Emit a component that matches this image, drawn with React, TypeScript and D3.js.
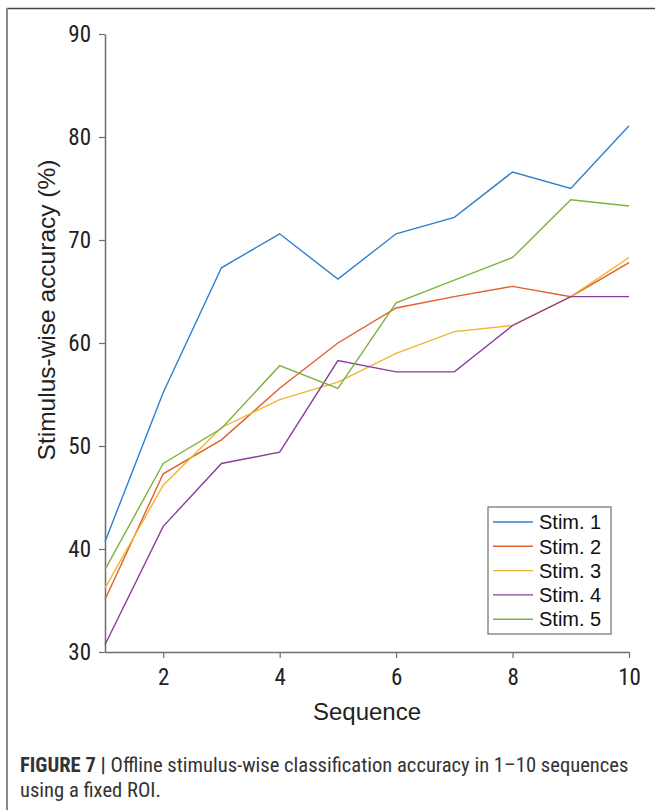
import React, { useEffect, useRef } from "react";
import * as d3 from "d3";

// sequences 1..10
const sequences = [1, 2, 3, 4, 5, 6, 7, 8, 9, 10];

const stim1 = [40.7, 55.2, 67.3, 70.6, 66.2, 70.6, 72.2, 76.6, 75.0, 81.1];
const stim2 = [35.1, 47.3, 50.6, 55.6, 60.0, 63.4, 64.5, 65.5, 64.5, 67.8];
const stim3 = [36.2, 46.2, 51.8, 54.5, 56.2, 59.0, 61.1, 61.7, 64.5, 68.3];
const stim4 = [30.7, 42.2, 48.3, 49.4, 58.3, 57.2, 57.2, 61.7, 64.5, 64.5];
const stim5 = [38.0, 48.3, 51.7, 57.8, 55.6, 63.9, 66.1, 68.3, 73.9, 73.3];

const seriesNames = ["Stim. 1", "Stim. 2", "Stim. 3", "Stim. 4", "Stim. 5"];
const seriesColors = ["#2f7fcf", "#e0602a", "#f0b530", "#8a3d9a", "#7db33c"];

const xTicks = [2, 4, 6, 8, 10];
const yTicks = [30, 40, 50, 60, 70, 80, 90];

const narrow = "'Liberation Sans Narrow', 'Roboto Condensed', 'Liberation Sans', sans-serif";
const plain = "'Liberation Sans', Arial, sans-serif";

export default function App() {
  const ref = useRef<HTMLDivElement>(null);

  useEffect(() => {
    const container = d3.select(ref.current);
    container.selectAll("*").remove();
    const width = 655;
    const height = 810;
    const svg = container
      .append("svg")
      .attr("width", width)
      .attr("height", height)
      .style("display", "block");

    svg.append("rect").attr("width", width).attr("height", height).attr("fill", "#fff");

    // frame
    svg.append("line").attr("x1", 7).attr("x2", width).attr("y1", 8.5).attr("y2", 8.5)
      .attr("stroke", "#444").attr("stroke-width", 1.6);
    svg.append("line").attr("x1", 7).attr("x2", 7).attr("y1", 8).attr("y2", height)
      .attr("stroke", "#888").attr("stroke-width", 2);

    const x = d3.scaleLinear().domain([1, 10]).range([105, 629]);
    const y = d3.scaleLinear().domain([30, 90]).range([652, 34]);

    const axisColor = "#6e6e6e";

    const gx = svg.append("g").attr("transform", "translate(0,652)")
      .call(d3.axisBottom(x).tickValues(xTicks).tickSize(6).tickSizeOuter(0).tickFormat(d3.format("d")));
    gx.select(".domain").attr("stroke", axisColor).attr("stroke-width", 1.5);
    gx.selectAll(".tick line").attr("stroke", axisColor).attr("stroke-width", 1.2);
    gx.selectAll(".tick text").attr("fill", "#222").attr("font-size", 23)
      .attr("font-family", narrow).attr("dy", "1.05em");

    const gy = svg.append("g").attr("transform", "translate(105,0)")
      .call(d3.axisLeft(y).tickValues(yTicks).tickSize(6).tickSizeOuter(0));
    gy.select(".domain").attr("stroke", axisColor).attr("stroke-width", 1.5);
    gy.selectAll(".tick line").attr("stroke", axisColor).attr("stroke-width", 1.2);
    gy.selectAll(".tick text").attr("fill", "#222").attr("font-size", 23)
      .attr("font-family", narrow).attr("x", -14);

    // lines
    const allSeries = [stim1, stim2, stim3, stim4, stim5];
    const line = d3.line<number>().x((_, i) => x(sequences[i])).y((d) => y(d));
    svg.append("g").selectAll("path").data(allSeries).join("path")
      .attr("d", (d) => line(d))
      .attr("fill", "none")
      .attr("stroke", (_, i) => seriesColors[i])
      .attr("stroke-width", 1.4);

    // axis titles
    svg.append("text").attr("x", 367).attr("y", 720).attr("text-anchor", "middle")
      .attr("font-family", plain).attr("font-size", 24).attr("fill", "#222").text("Sequence");
    svg.append("text").attr("transform", "translate(55,310) rotate(-90)").attr("text-anchor", "middle")
      .attr("font-family", plain).attr("font-size", 24.5).attr("fill", "#222")
      .text("Stimulus-wise accuracy (%)");

    // legend
    const lg = svg.append("g");
    lg.append("rect").attr("x", 488).attr("y", 507).attr("width", 123).attr("height", 127)
      .attr("fill", "#fff").attr("stroke", "#6e6e6e").attr("stroke-width", 1.2);
    seriesNames.forEach((name, i) => {
      const cy = 522 + i * 24.3;
      lg.append("line").attr("x1", 493).attr("x2", 533).attr("y1", cy).attr("y2", cy)
        .attr("stroke", seriesColors[i]).attr("stroke-width", 1.4);
      lg.append("text").attr("x", 539).attr("y", cy).attr("dy", "0.36em")
        .attr("font-family", plain).attr("font-size", 20).attr("fill", "#111").text(name);
    });

    // caption
    const cap = svg.append("text").attr("x", 20).attr("y", 772)
      .attr("font-family", narrow).attr("font-size", 20.6).attr("fill", "#333");
    cap.append("tspan").attr("font-weight", "bold").text("FIGURE 7 | ");
    cap.append("tspan").text("Offline stimulus-wise classification accuracy in 1–10 sequences");
    svg.append("text").attr("x", 20).attr("y", 797)
      .attr("font-family", narrow).attr("font-size", 20.6).attr("fill", "#333")
      .text("using a fixed ROI.");
  }, []);

  return <div ref={ref} style={{ position: "absolute", left: 0, top: 0 }}></div>;
}
